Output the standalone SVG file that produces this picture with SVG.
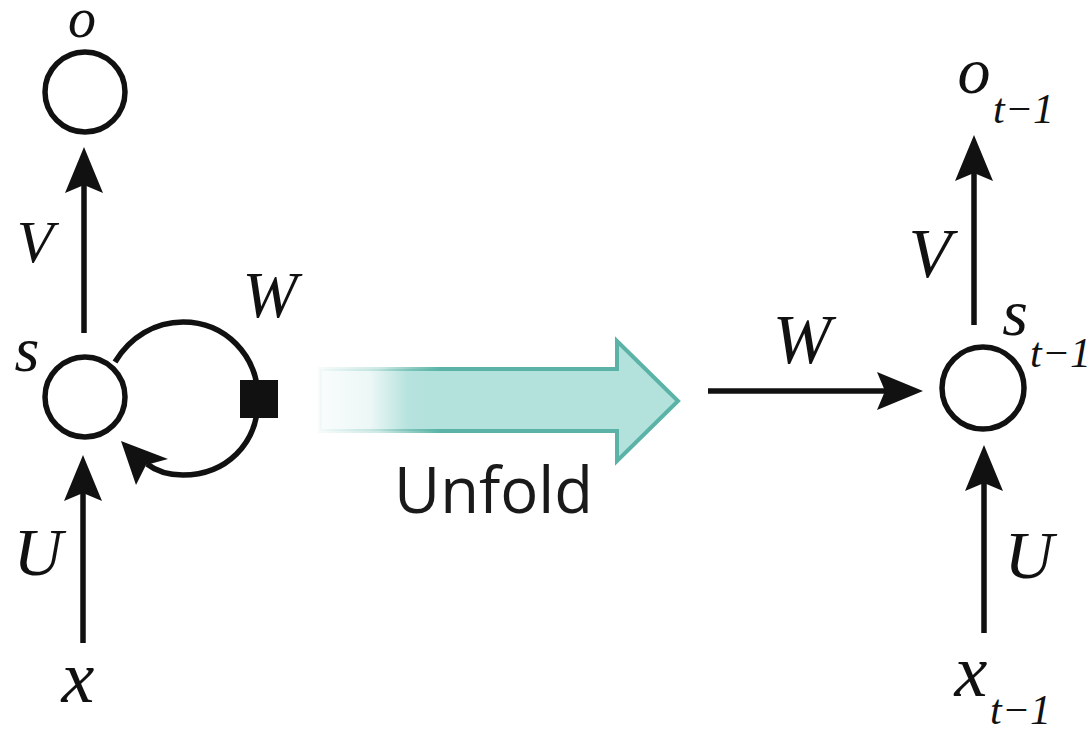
<svg xmlns="http://www.w3.org/2000/svg" width="1091" height="730" viewBox="0 0 1091 730">
<style>
.node{fill:#fff;stroke:#111;stroke-width:5.5}
.edge{fill:none;stroke:#111;stroke-width:5.5}
</style>
<defs>
<marker id="ah" viewBox="0 0 46 38" refX="8" refY="19" markerWidth="46" markerHeight="38" orient="auto" markerUnits="userSpaceOnUse">
<path d="M0,0 L46,19 L0,38 L8,19 Z" fill="#111"/>
</marker>
<linearGradient id="fillG" gradientUnits="userSpaceOnUse" x1="320" y1="0" x2="430" y2="0">
<stop offset="0" stop-color="#b3e1dc" stop-opacity="0.08"/>
<stop offset="0.45" stop-color="#b3e1dc" stop-opacity="0.25"/>
<stop offset="0.8" stop-color="#b3e1dc" stop-opacity="0.95"/>
<stop offset="1" stop-color="#b3e1dc"/>
</linearGradient>
<linearGradient id="strokeG" gradientUnits="userSpaceOnUse" x1="320" y1="0" x2="440" y2="0">
<stop offset="0" stop-color="#5ab3a6" stop-opacity="0.05"/>
<stop offset="0.5" stop-color="#5ab3a6" stop-opacity="0.3"/>
<stop offset="1" stop-color="#5ab3a6"/>
</linearGradient>
</defs>
<rect width="1091" height="730" fill="#fff"/>

<g id="connectors">
<line class="edge" x1="84" y1="333" x2="84" y2="185" marker-end="url(#ah)"/>
<line class="edge" x1="83" y1="643" x2="83" y2="493" marker-end="url(#ah)"/>
<path class="edge" d="M115,362 C130,337 155,322 183,322 C225,322 258,355 258,399 C258,445 225,475 183,475 C168,475 156,471 147,464"/>
<path d="M121,441 L136,485 L146,465 L168,459 Z" fill="#111"/>
<rect x="240" y="380" width="38" height="38" fill="#111"/>
<line class="edge" x1="974" y1="325" x2="974" y2="173" marker-end="url(#ah)"/>
<line class="edge" x1="984" y1="633" x2="984" y2="483" marker-end="url(#ah)"/>
<line class="edge" x1="708" y1="391" x2="885" y2="391" marker-end="url(#ah)"/>
</g>

<g id="unfold">
<path d="M320,369 L617,369 L617,341 L678,401 L617,461 L617,431 L320,431 Z" fill="url(#fillG)" stroke="url(#strokeG)" stroke-width="4" stroke-linejoin="miter"/>
<text x="394" y="513" style="font-family:'Open Sans',sans-serif;font-size:64px;fill:#1a1a1a" textLength="199" lengthAdjust="spacingAndGlyphs">Unfold</text>
</g>

<g id="node-o">
<circle class="node" cx="85" cy="92" r="40"/>
<text x="82" y="37" text-anchor="middle" style="font-family:'Liberation Serif',serif;font-style:italic;font-size:56px;fill:#111">o</text>
</g>
<g id="node-s">
<circle class="node" cx="85" cy="397" r="40"/>
<text x="27" y="371" text-anchor="middle" style="font-family:'Liberation Serif',serif;font-style:italic;font-size:64px;fill:#111">s</text>
</g>
<g id="node-x">
<text x="78" y="702" text-anchor="middle" style="font-family:'Liberation Serif',serif;font-style:italic;font-size:74px;fill:#111">x</text>
</g>
<g id="labels-left">
<text x="35" y="262" text-anchor="middle" style="font-family:'Liberation Serif',serif;font-style:italic;font-size:60px;fill:#111">V</text>
<text x="270" y="317" text-anchor="middle" style="font-family:'Liberation Serif',serif;font-style:italic;font-size:66px;fill:#111">W</text>
<text x="38" y="575" text-anchor="middle" style="font-family:'Liberation Serif',serif;font-style:italic;font-size:68px;fill:#111">U</text>
</g>

<g id="node-o-t1">
<text x="974" y="93" text-anchor="middle" style="font-family:'Liberation Serif',serif;font-style:italic;font-size:66px;fill:#111">o</text>
<text x="993" y="123" style="font-family:'Liberation Serif',serif;font-style:italic;font-size:42px;fill:#111">t−1</text>
</g>
<g id="node-s-t1">
<circle class="node" cx="983" cy="388" r="41"/>
<text x="1015" y="335" text-anchor="middle" style="font-family:'Liberation Serif',serif;font-style:italic;font-size:66px;fill:#111">s</text>
<text x="1030" y="367" style="font-family:'Liberation Serif',serif;font-style:italic;font-size:42px;fill:#111">t−1</text>
</g>
<g id="node-x-t1">
<text x="971" y="696" text-anchor="middle" style="font-family:'Liberation Serif',serif;font-style:italic;font-size:74px;fill:#111">x</text>
<text x="990" y="724" style="font-family:'Liberation Serif',serif;font-style:italic;font-size:42px;fill:#111">t−1</text>
</g>
<g id="labels-right">
<text x="930" y="277" text-anchor="middle" style="font-family:'Liberation Serif',serif;font-style:italic;font-size:70px;fill:#111">V</text>
<text x="802" y="363" text-anchor="middle" style="font-family:'Liberation Serif',serif;font-style:italic;font-size:70px;fill:#111">W</text>
<text x="1029" y="578" text-anchor="middle" style="font-family:'Liberation Serif',serif;font-style:italic;font-size:68px;fill:#111">U</text>
</g>
</svg>
